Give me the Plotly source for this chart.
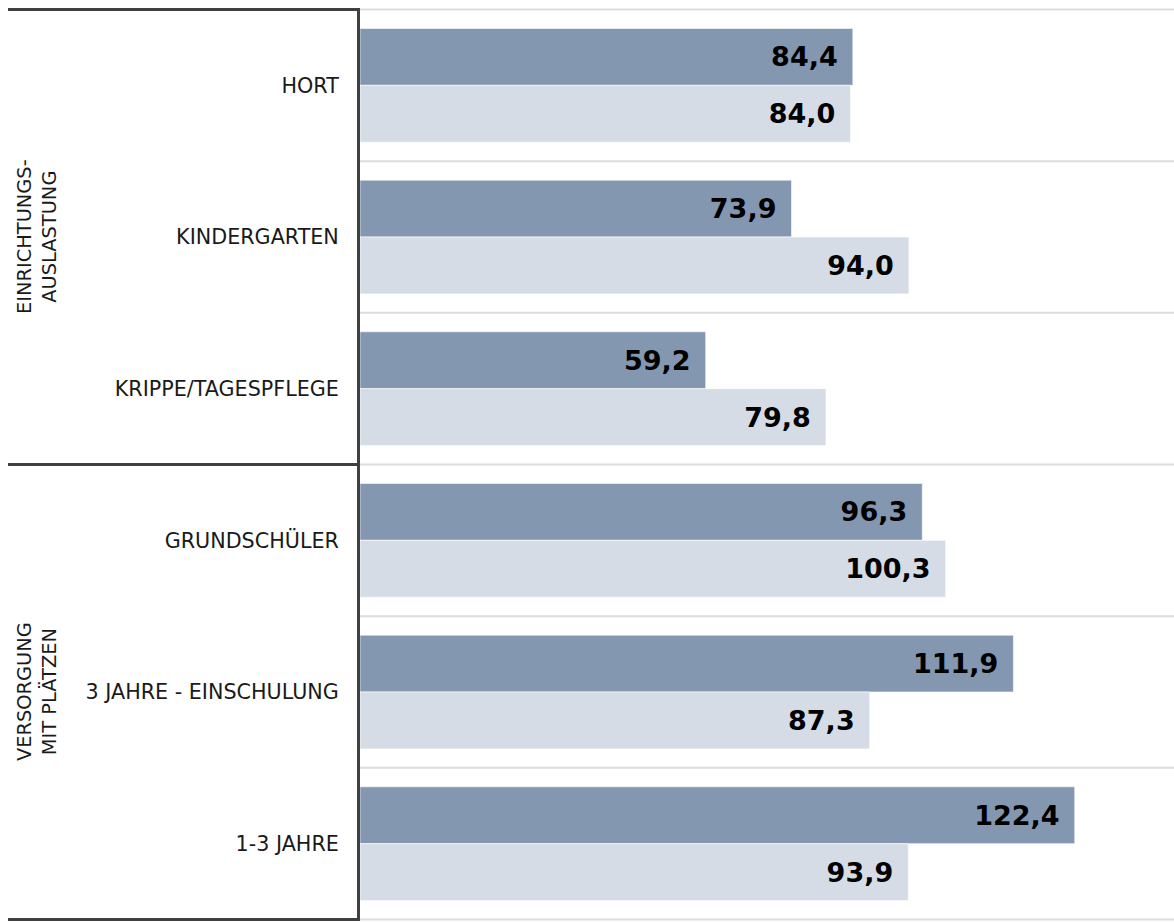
import plotly.graph_objects as go

categories = ["HORT", "KINDERGARTEN", "KRIPPE/TAGESPFLEGE",
              "GRUNDSCHÜLER", "3 JAHRE - EINSCHULUNG", "1-3 JAHRE"]
series_a = [84.4, 73.9, 59.2, 96.3, 111.9, 122.4]
series_b = [84.0, 94.0, 79.8, 100.3, 87.3, 93.9]
group_labels = ["EINRICHTUNGS-<br>AUSLASTUNG", "VERSORGUNG<br>MIT PLÄTZEN"]
group_spans = [(0, 2), (3, 5)]

W, H = 1174, 922
ML, MR, MT, MB = 360, 0, 8, 1
plot_w = W - ML - MR
FONT = "DejaVu Sans"
DARK = "#404040"

fig = go.Figure()
for vals, color in [(series_a, "#8497b0"), (series_b, "#d6dce5")]:
    fig.add_trace(go.Bar(
        y=categories, x=vals, orientation="h",
        marker=dict(color=color, line=dict(color="rgba(255,255,255,0.6)", width=1)),
        texttemplate="%{x:.1f}\u00a0\u200a",
        textposition="inside", insidetextanchor="end",
        textangle=0, constraintext="none",
        textfont=dict(family=FONT, size=27, color="black", weight="bold"),
        hoverinfo="skip", showlegend=False,
    ))

shapes = []
# light gridlines between categories
for k in range(len(categories) + 1):
    shapes.append(dict(type="line", xref="paper", yref="y",
                       x0=0, x1=1, y0=k - 0.5, y1=k - 0.5,
                       line=dict(color="#dcdcdc", width=2), layer="below"))
# dark group dividers on the left
left_px = 8
x_left = (left_px - ML) / plot_w
bounds = sorted({s - 0.5 for s, e in group_spans} | {e + 0.5 for s, e in group_spans})
for b in bounds:
    shapes.append(dict(type="line", xref="paper", yref="y",
                       x0=x_left, x1=-1.5 / plot_w, y0=b, y1=b,
                       line=dict(color=DARK, width=3)))

annotations = []
label_px = 37
for (s, e), txt in zip(group_spans, group_labels):
    annotations.append(dict(
        xref="paper", yref="y", x=(label_px - ML) / plot_w, y=(s + e) / 2,
        text=txt, textangle=-90, showarrow=False, xanchor="center", yanchor="middle",
        font=dict(family=FONT, size=19.4, color="#1a1a1a"), align="center",
    ))

fig.update_layout(
    width=W, height=H,
    margin=dict(l=ML, r=MR, t=MT, b=MB, pad=0),
    paper_bgcolor="white", plot_bgcolor="white",
    barmode="group", bargap=0.25, bargroupgap=0,
    separators=",.",
    shapes=shapes, annotations=annotations,
    xaxis=dict(range=[0, 139.4], showgrid=False, zeroline=False,
               showticklabels=False, showline=False, fixedrange=True),
    yaxis=dict(autorange="reversed", showgrid=False, zeroline=False,
               showline=True, linecolor=DARK, linewidth=3,
               ticks="", ticklabelstandoff=14, fixedrange=True,
               tickfont=dict(family=FONT, size=20.7, color="#1a1a1a")),
)

fig.write_html("out.html",
               config={"displayModeBar": False},
               post_script="document.body.style.margin='0';document.body.style.overflow='hidden';")
